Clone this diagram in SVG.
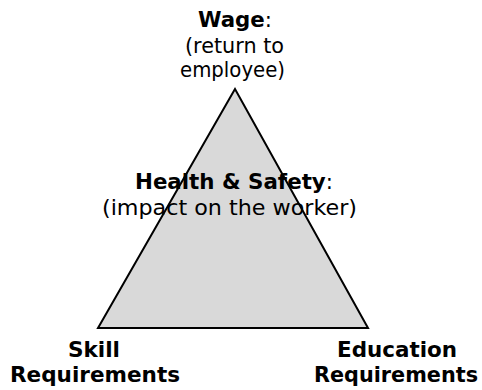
<svg xmlns="http://www.w3.org/2000/svg" width="482" height="390" viewBox="0 0 482 390">
  <style>
    text { font-family: "DejaVu Sans", "Liberation Sans", sans-serif; font-size: 21px; fill: #000; text-anchor: middle; }
    .b { font-weight: bold; }
    .tri { fill: #d9d9d9; stroke: #000; stroke-width: 2; stroke-linejoin: miter; }
  </style>
  <rect width="482" height="390" fill="#fff"/>
  <g id="triangle">
    <polygon class="tri" points="235,89 98,328 368,328"/>
  </g>
  <g id="wage">
    <text x="235" y="27" textLength="74" lengthAdjust="spacingAndGlyphs"><tspan class="b">Wage</tspan>:</text>
    <text x="234.5" y="52.5" textLength="99" lengthAdjust="spacingAndGlyphs">(return to</text>
    <text x="232.5" y="77" textLength="105" lengthAdjust="spacingAndGlyphs">employee)</text>
  </g>
  <g id="health">
    <text x="234" y="188.5" textLength="198" lengthAdjust="spacingAndGlyphs"><tspan class="b">Health &amp; Safety</tspan>:</text>
    <text x="229.5" y="214.5" textLength="255" lengthAdjust="spacingAndGlyphs">(impact on the worker)</text>
  </g>
  <g id="skill">
    <text class="b" x="94" y="357" textLength="52" lengthAdjust="spacingAndGlyphs">Skill</text>
    <text class="b" x="95" y="382" textLength="170" lengthAdjust="spacingAndGlyphs">Requirements</text>
  </g>
  <g id="education">
    <text class="b" x="397" y="357" textLength="120" lengthAdjust="spacingAndGlyphs">Education</text>
    <text class="b" x="396" y="382" textLength="164" lengthAdjust="spacingAndGlyphs">Requirements</text>
  </g>
</svg>
